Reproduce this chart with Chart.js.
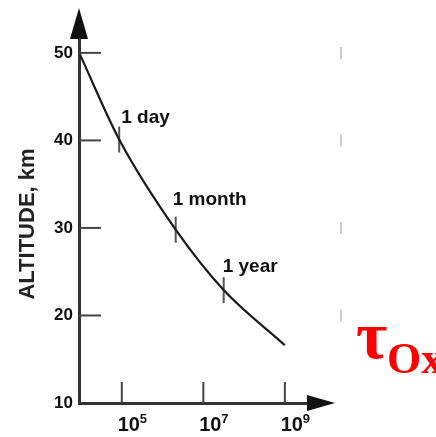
<!DOCTYPE html>
<html>
<head>
<meta charset="utf-8">
<script src="https://cdn.jsdelivr.net/npm/chart.js@4"></script>
<style>
  html, body { margin: 0; padding: 0; background: #fff; }
  #wrap { width: 436px; height: 437px; }
</style>
</head>
<body>
<div id="wrap"><canvas id="lifeChart" width="436" height="437"></canvas></div>
<script>
// O_x lifetime vs altitude (time in seconds, log axis)
let timeSec = [9.44e3, 8.64e4, 2.1e6, 3.16e7, 1e9];
let altitudeKm = [49.8, 40.1, 29.8, 22.9, 16.6];

let markTimes = [8.64e4, 2.1e6, 3.16e7];
let markAlt = [40.1, 29.8, 22.9];
let markLabels = ["1 day", "1 month", "1 year"];

let xTicks = [1e5, 1e7, 1e9];
let xTickBase = ["10", "10", "10"];
let xTickExp = ["5", "7", "9"];
let yTicks = [10, 20, 30, 40, 50];

Chart.defaults.font.family = "'Liberation Sans', Arial, sans-serif";
Chart.defaults.color = "#222";

function line(ctx, x1, y1, x2, y2) {
	ctx.beginPath();
	ctx.moveTo(x1, y1);
	ctx.lineTo(x2, y2);
	ctx.stroke();
}

let labelNudge = [[2, -17], [-3, -25], [-1, -18]];

let decor = {
	id: "decor",
	afterDraw(chart) {
		let ctx = chart.ctx;
		let a = chart.chartArea;
		let x = chart.scales.x;
		let y = chart.scales.y;
		ctx.save();

		// inward tick marks
		ctx.strokeStyle = "#444";
		ctx.lineWidth = 2;
		yTicks.forEach(function (v) {
			if (v === 10) return;
			let py = y.getPixelForValue(v);
			line(ctx, a.left, py, a.left + 22, py);
		});
		xTicks.forEach(function (v) {
			let px = x.getPixelForValue(v);
			line(ctx, px, a.bottom, px, a.bottom - 21);
		});

		// exponents of the x tick labels
		ctx.fillStyle = "#111";
		ctx.font = "bold 13px 'Liberation Sans', Arial, sans-serif";
		ctx.textBaseline = "top";
		x.ticks.forEach(function (t, i) {
			let px = x.getPixelForValue(t.value) + 7 + 11;
			ctx.fillText(xTickExp[i], px, 413);
		});

		// faint marks on the right edge
		ctx.strokeStyle = "#bbb";
		ctx.lineWidth = 1.5;
		[50, 40, 30, 20].forEach(function (v) {
			let py = y.getPixelForValue(v);
			line(ctx, 341, py - 6, 341, py + 6);
		});

		// arrow heads
		ctx.fillStyle = "#111";
		ctx.beginPath();
		ctx.moveTo(a.left, 8);
		ctx.lineTo(a.left - 9, a.top + 1);
		ctx.lineTo(a.left + 9, a.top + 1);
		ctx.closePath();
		ctx.fill();
		ctx.beginPath();
		ctx.moveTo(335, a.bottom);
		ctx.lineTo(a.right - 1, a.bottom - 8);
		ctx.lineTo(a.right - 1, a.bottom + 8);
		ctx.closePath();
		ctx.fill();

		// labels on the curve
		ctx.fillStyle = "#111";
		ctx.font = "bold 19px 'Liberation Sans', Arial, sans-serif";
		ctx.textBaseline = "alphabetic";
		markLabels.forEach(function (t, i) {
			let px = x.getPixelForValue(markTimes[i]);
			let py = y.getPixelForValue(markAlt[i]);
			ctx.fillText(t, px + labelNudge[i][0], py + labelNudge[i][1]);
		});

		// y axis title
		ctx.save();
		ctx.translate(34, 224);
		ctx.rotate(-Math.PI / 2);
		ctx.textAlign = "center";
		ctx.font = "bold 22px 'Liberation Sans', Arial, sans-serif";
		ctx.fillStyle = "#222";
		ctx.fillText("ALTITUDE, km", 0, 0);
		ctx.restore();

		// tau_Ox
		ctx.fillStyle = "#ff0000";
		ctx.font = "bold 68px 'Liberation Serif', 'Times New Roman', serif";
		ctx.fillText("τ", 356, 358);
		ctx.font = "bold 44px 'Liberation Serif', 'Times New Roman', serif";
		ctx.fillText("Ox", 387, 373);

		ctx.restore();
	}
};

let curve = [];
for (let i = 0; i < timeSec.length; i++) curve.push({ x: timeSec[i], y: altitudeKm[i] });
let marks = [];
for (let i = 0; i < markTimes.length; i++) marks.push({ x: markTimes[i], y: markAlt[i] });

let ctx = document.getElementById("lifeChart").getContext("2d");
let lifeChart = new Chart(ctx, {
	type: "scatter",
	data: {
		datasets: [
			{
				label: "lifetime",
				data: curve,
				showLine: true,
				borderColor: "#1a1a1a",
				borderWidth: 2.2,
				pointRadius: 0,
				cubicInterpolationMode: "monotone"
			},
			{
				label: "marks",
				data: marks,
				pointStyle: "line",
				rotation: 90,
				radius: 13,
				borderColor: "#555",
				borderWidth: 2
			}
		]
	},
	options: {
		responsive: false,
		animation: false,
		layout: { padding: { left: 0, right: 128, top: 38, bottom: 0 } },
		plugins: { legend: { display: false }, tooltip: { enabled: false } },
		scales: {
			x: {
				type: "logarithmic",
				min: 8913,
				max: 3.7e9,
				grid: { display: false, drawTicks: false },
				border: { display: true, color: "#333", width: 3 },
				afterBuildTicks: function (scale) {
					scale.ticks = xTicks.map(function (v) { return { value: v }; });
				},
				afterFit: function (scale) { scale.height = 34; },
				ticks: {
					autoSkip: false,
					maxRotation: 0,
					padding: 10,
					labelOffset: 7,
					color: "#111",
					font: { size: 20, weight: "bold" },
					callback: function (v, i) { return xTickBase[i]; }
				}
			},
			y: {
				min: 10,
				max: 51.7,
				grid: { display: false, drawTicks: false },
				border: { display: true, color: "#333", width: 3 },
				afterBuildTicks: function (scale) {
					scale.ticks = yTicks.map(function (v) { return { value: v }; });
				},
				afterFit: function (scale) { scale.width = 79; },
				ticks: {
					padding: 6,
					color: "#111",
					font: { size: 17, weight: "bold" }
				}
			}
		}
	},
	plugins: [decor]
});
</script>
</body>
</html>
